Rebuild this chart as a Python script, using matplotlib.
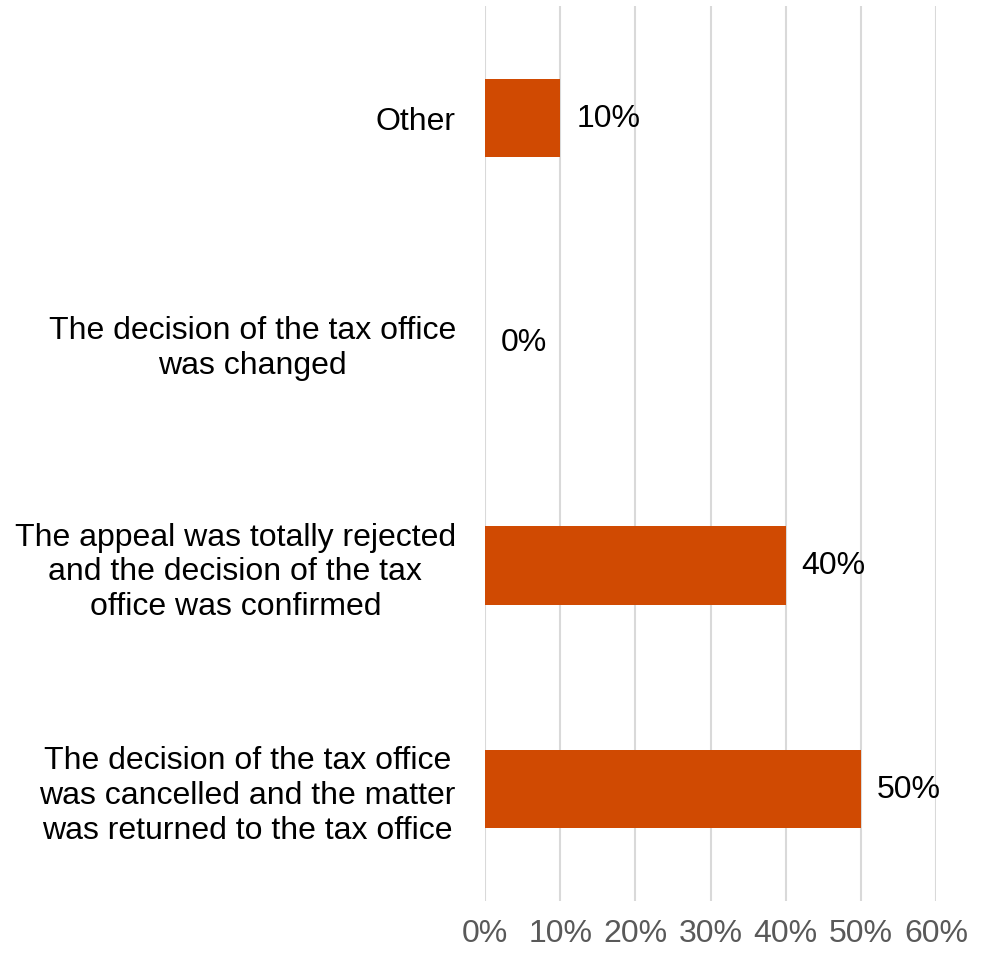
import matplotlib
matplotlib.use("Agg")
import matplotlib.pyplot as plt
from matplotlib.ticker import FuncFormatter

categories = [
    "The decision of the tax office\nwas cancelled and the matter\nwas returned to the tax office",
    "The appeal was totally rejected\nand the decision of the tax\noffice was confirmed",
    "The decision of the tax office\nwas changed",
    "Other",
]
values = [50, 40, 0, 10]
xticks = [0, 10, 20, 30, 40, 50, 60]

plt.rcParams['font.family'] = ['Liberation Sans', 'DejaVu Sans']
FS = 23

fig = plt.figure(figsize=(9.82, 9.54), dpi=100)
ax = fig.add_axes([485/982, 1 - 902/954, (936-485)/982, (902-7)/954])

y = list(range(len(categories)))
ax.barh(y, values, height=0.35, color='#D04A02', zorder=3)
for yi, v in zip(y, values):
    ax.annotate(f"{v}%", (v, yi), xytext=(11.5, 0), textcoords='offset points',
                ha='left', va='center', fontsize=FS, color='black')

ax.set_xlim(0, 60)
ax.set_ylim(-0.5, 3.5)
ax.set_xticks(xticks)
ax.xaxis.set_major_formatter(FuncFormatter(lambda v, p: f"{int(v)}%"))
ax.set_yticks(y)
ax.set_yticklabels(categories, multialignment='center', fontsize=FS)
ax.tick_params(axis='y', length=0, pad=21)
ax.tick_params(axis='x', length=0, pad=12, labelsize=FS, labelcolor='#595959')
ax.grid(axis='x', color='#D9D9D9', linewidth=1.5, zorder=0)
for s in ax.spines.values():
    s.set_visible(False)

fig.savefig("out.png", dpi=100)
